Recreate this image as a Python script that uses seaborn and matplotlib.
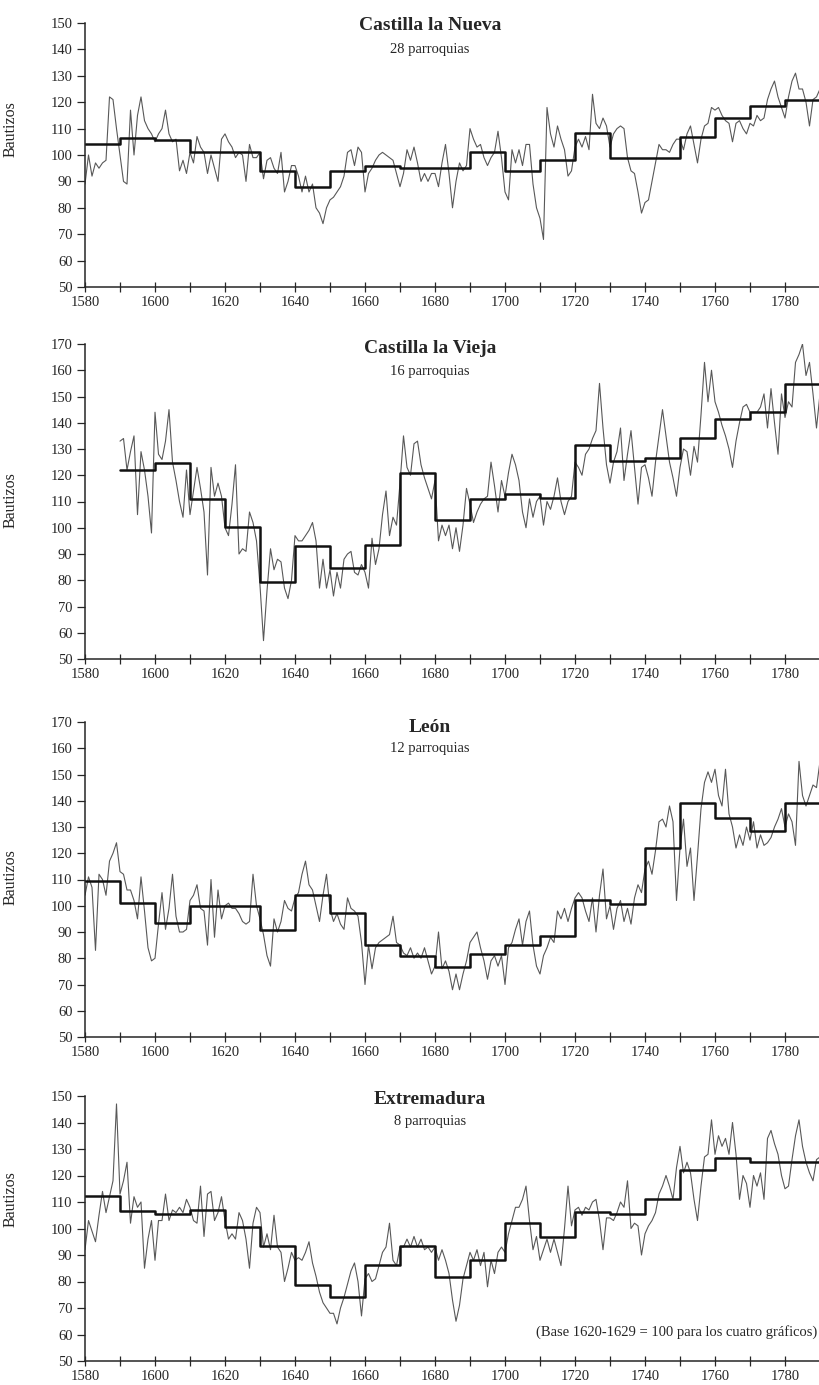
import numpy as np
import pandas as pd
import matplotlib
matplotlib.use("Agg")
import matplotlib.pyplot as plt
import seaborn as sns

sns.set_theme(style="ticks")
plt.rcParams['font.family'] = ['Liberation Serif', 'DejaVu Serif']

# ---------------- data ----------------
years_nueva = list(range(1580, 1791))
nueva = [
    89, 100, 92, 97, 95, 97, 98, 122, 121, 110,
    100, 90, 89, 117, 100, 115, 122, 113, 110, 108,
    105, 108, 110, 117, 108, 105, 106, 94, 98, 93,
    101, 97, 107, 103, 101, 93, 100, 95, 90, 106,
    108, 105, 103, 99, 101, 100, 90, 104, 99, 99,
    101, 91, 98, 99, 95, 93, 101, 86, 90, 96,
    96, 92, 86, 92, 86, 89, 80, 78, 74, 80,
    83, 84, 86, 88, 92, 101, 102, 96, 103, 101,
    86, 93, 95, 98, 100, 101, 100, 99, 98, 93,
    88, 93, 102, 98, 103, 97, 90, 93, 90, 93,
    93, 88, 97, 104, 93, 80, 90, 97, 94, 96,
    110, 106, 103, 104, 99, 96, 99, 101, 109, 99,
    86, 83, 102, 97, 102, 96, 104, 104, 89, 80,
    76, 68, 118, 108, 103, 111, 106, 102, 92, 94,
    103, 106, 103, 107, 102, 123, 112, 110, 114, 111,
    103, 108, 110, 111, 110, 99, 94, 93, 86, 78,
    82, 83, 90, 97, 104, 102, 102, 101, 104, 106,
    106, 102, 108, 111, 104, 97, 106, 111, 112, 118,
    117, 118, 115, 113, 112, 105, 112, 113, 110, 108,
    112, 111, 115, 113, 114, 121, 125, 128, 122, 118,
    114, 122, 128, 131, 125, 125, 120, 111, 121, 122,
    125]
dec_nueva = list(range(1580, 1790, 10))
mean_nueva = [104, 106.5, 105.5, 101, 101, 94, 88, 94, 96, 95, 95,
              101, 94, 98, 108.5, 99, 99, 107, 114, 118.5, 121]

years_vieja = list(range(1590, 1791))
vieja = [
    133, 134, 122, 129, 135, 105, 129, 122, 112, 98,
    144, 128, 126, 133, 145, 125, 118, 110, 104, 122,
    105, 114, 123, 115, 106, 82, 123, 112, 117, 112,
    100, 97, 109, 124, 90, 92, 91, 106, 102, 95,
    78, 57, 76, 92, 84, 88, 87, 77, 73, 80,
    97, 95, 95, 97, 99, 102, 95, 77, 88, 77,
    84, 74, 83, 77, 88, 90, 91, 83, 82, 86,
    83, 77, 96, 86, 92, 105, 114, 97, 104, 101,
    117, 135, 123, 120, 132, 133, 124, 119, 115, 111,
    118, 95, 101, 97, 101, 92, 100, 91, 101, 115,
    109, 102, 106, 109, 111, 112, 125, 116, 106, 118,
    112, 121, 128, 124, 118, 106, 100, 111, 104, 110,
    112, 101, 110, 107, 112, 119, 110, 105, 110, 112,
    125, 123, 120, 128, 130, 134, 137, 155, 138, 124,
    117, 125, 129, 138, 118, 128, 137, 123, 109, 123,
    124, 119, 112, 125, 135, 145, 135, 125, 119, 112,
    123, 130, 129, 120, 131, 125, 143, 163, 148, 160,
    148, 144, 139, 135, 130, 123, 133, 140, 146, 147,
    144, 144, 144, 146, 151, 138, 153, 140, 128, 151,
    142, 148, 146, 163, 166, 170, 158, 163, 151, 138,
    151]
dec_vieja = list(range(1590, 1790, 10))
mean_vieja = [122, 124.5, 111, 100.2, 79.2, 93.2, 84.5, 93.4, 121, 103,
              111, 113, 111.2, 131.5, 125.6, 126.7, 134.3, 141.4, 144, 154.8]

years_leon = list(range(1580, 1791))
leon = [
    104, 111, 107, 83, 112, 110, 104, 117, 120, 124,
    113, 112, 106, 106, 102, 95, 111, 98, 84, 79,
    80, 93, 105, 91, 99, 112, 96, 90, 90, 91,
    102, 104, 108, 99, 98, 85, 110, 88, 106, 95,
    100, 101, 99, 99, 97, 94, 93, 94, 112, 100,
    95, 89, 81, 77, 95, 90, 94, 102, 99, 98,
    103, 105, 112, 117, 108, 106, 100, 94, 104, 112,
    99, 94, 97, 93, 91, 103, 99, 98, 96, 86,
    70, 85, 76, 84, 86, 87, 88, 89, 96, 86,
    85, 82, 81, 84, 80, 82, 80, 84, 79, 74,
    77, 90, 76, 79, 75, 68, 74, 68, 74, 79,
    86, 88, 90, 84, 79, 72, 79, 81, 77, 81,
    70, 84, 86, 91, 95, 85, 94, 98, 85, 77,
    74, 81, 84, 88, 86, 98, 95, 99, 94, 99,
    103, 105, 103, 98, 94, 103, 90, 104, 114, 95,
    100, 91, 99, 102, 94, 99, 93, 103, 108, 105,
    114, 117, 112, 121, 132, 133, 130, 138, 132, 102,
    122, 133, 115, 122, 102, 119, 137, 147, 151, 147,
    152, 142, 138, 152, 135, 130, 122, 127, 123, 130,
    125, 132, 122, 127, 123, 124, 126, 130, 133, 137,
    130, 135, 132, 123, 155, 142, 138, 142, 146, 145,
    155]
dec_leon = list(range(1580, 1790, 10))
mean_leon = [109.4, 100.9, 93.3, 100, 100, 90.8, 104.1, 97.4, 85, 80.9, 76.8,
             81.5, 85, 88.3, 102.2, 100.5, 121.9, 139, 133.3, 128.6, 139]

years_extr = list(range(1580, 1791))
extr = [
    92, 103, 99, 95, 105, 114, 106, 112, 118, 147,
    113, 118, 125, 102, 112, 108, 110, 85, 96, 103,
    88, 103, 103, 113, 103, 107, 106, 108, 106, 111,
    108, 103, 102, 116, 97, 113, 114, 103, 106, 112,
    103, 96, 98, 96, 106, 103, 96, 85, 102, 108,
    106, 93, 98, 92, 105, 93, 91, 80, 85, 91,
    88, 89, 88, 91, 95, 87, 82, 76, 72, 70,
    68, 68, 64, 70, 74, 79, 84, 87, 80, 67,
    81, 83, 80, 81, 86, 91, 93, 102, 88, 86,
    93, 93, 96, 93, 97, 93, 96, 92, 93, 91,
    93, 88, 92, 88, 83, 73, 65, 71, 81, 86,
    91, 88, 92, 86, 91, 78, 88, 83, 91, 93,
    91, 98, 103, 108, 108, 111, 116, 103, 92, 97,
    88, 92, 96, 91, 96, 91, 86, 100, 116, 101,
    107, 108, 105, 108, 107, 110, 111, 103, 92, 104,
    104, 103, 106, 110, 108, 118, 100, 102, 101, 90,
    98, 101, 103, 106, 113, 116, 120, 116, 111, 123,
    131, 121, 125, 121, 111, 103, 116, 127, 128, 141,
    128, 135, 131, 134, 128, 140, 128, 111, 120, 117,
    108, 120, 116, 121, 111, 134, 137, 132, 128, 120,
    115, 116, 126, 135, 141, 131, 125, 121, 118, 126,
    127]
dec_extr = list(range(1580, 1790, 10))
mean_extr = [112.2, 106.5, 105.3, 107.1, 100.6, 93.4, 78.7, 74.3, 86.2, 93.4, 81.8,
             88.1, 101.9, 96.9, 106.3, 105.6, 111.3, 121.9, 126.6, 125.1, 125.1]

titles = ["Castilla la Nueva", "Castilla la Vieja", "León", "Extremadura"]
subtitles = ["28 parroquias", "16 parroquias", "12 parroquias", "8 parroquias"]
note = "(Base 1620-1629 = 100 para los cuatro gráficos)"

# ---------------- layout ----------------
W, H = 820, 1385
fig = plt.figure(figsize=(W / 100, H / 100), dpi=100)
left_px, right_px = 85, 820

panels = [
    dict(years=years_nueva, vals=nueva, dec=dec_nueva, means=mean_nueva, ymax=150,
         top=23, bottom=287, ty=0.989, sty=0.898, lab=0.60),
    dict(years=years_vieja, vals=vieja, dec=dec_vieja, means=mean_vieja, ymax=170,
         top=344, bottom=659, ty=0.987, sty=0.914, lab=0.505),
    dict(years=years_leon, vals=leon, dec=dec_leon, means=mean_leon, ymax=170,
         top=722, bottom=1037, ty=0.984, sty=0.917, lab=0.508),
    dict(years=years_extr, vals=extr, dec=dec_extr, means=mean_extr, ymax=150,
         top=1096, bottom=1361, ty=0.985, sty=0.902, lab=0.61),
]

ink = "#262626"
for i, p in enumerate(panels):
    ax = fig.add_axes([left_px / W, 1 - p['bottom'] / H,
                       (right_px - left_px) / W, (p['bottom'] - p['top']) / H])
    df = pd.DataFrame({'year': p['years'], 'value': p['vals']})
    sns.lineplot(data=df, x='year', y='value', ax=ax, color='#585858',
                 linewidth=0.8, estimator=None, clip_on=True)
    sx = list(p['dec']) + [p['dec'][-1] + 10]
    sy = list(p['means']) + [p['means'][-1]]
    sdf = pd.DataFrame({'year': sx, 'mean': sy})
    sns.lineplot(data=sdf, x='year', y='mean', ax=ax, color='#111111',
                 linewidth=1.8, estimator=None, drawstyle='steps-post')

    ax.set_xlim(1580, 1790)
    ax.set_ylim(50, p['ymax'])
    ax.set_yticks(range(50, p['ymax'] + 1, 10))
    ax.set_xticks(range(1580, 1790, 20))
    ax.set_xticks(range(1590, 1791, 20), minor=True)
    ax.set_xticklabels([str(y) for y in range(1580, 1790, 20)])
    for s in ['top', 'right']:
        ax.spines[s].set_visible(False)
    for s in ['left', 'bottom']:
        ax.spines[s].set_color(ink)
        ax.spines[s].set_linewidth(1.1)
    ax.tick_params(axis='y', direction='out', length=6, width=0.9, pad=3,
                   labelsize=10.5, colors=ink)
    ax.tick_params(axis='x', which='both', direction='inout', length=7, width=0.9,
                   pad=3, labelsize=10.5, colors=ink)
    ax.set_xlabel('')
    ax.set_ylabel('Bautizos', fontsize=11.5, color=ink)
    ax.yaxis.set_label_coords(-0.09, p['lab'])

    ax.text(0.469, p['ty'], titles[i], transform=ax.transAxes, ha='center',
            va='center', fontsize=14, fontweight='bold', color=ink)
    ax.text(0.469, p['sty'], subtitles[i], transform=ax.transAxes, ha='center',
            va='center', fontsize=10.5, color=ink)
    if i == 3:
        ax.text(0.996, 0.11, note, transform=ax.transAxes, ha='right',
                va='center', fontsize=10.5, color=ink)

fig.savefig("out.png", dpi=100)
